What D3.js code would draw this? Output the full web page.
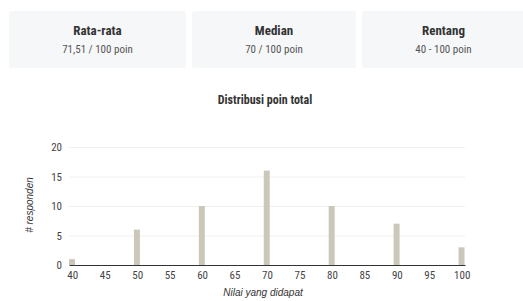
<!DOCTYPE html>
<html>
<head>
<meta charset="utf-8">
<script src="https://cdn.jsdelivr.net/npm/d3@7"></script>
<style>
  body { margin: 0; background: #fff; }
  svg { display: block; }
</style>
</head>
<body>
<svg id="chart" width="523" height="301"></svg>
<script>
const cardTitles = ['Rata-rata', 'Median', 'Rentang']
const cardValues = ['71,51 / 100 poin', '70 / 100 poin', '40 - 100 poin']
const scores = [40, 50, 60, 70, 80, 90, 100]
const counts = [1, 6, 10, 16, 10, 7, 3]
const xTicks = [40, 45, 50, 55, 60, 65, 70, 75, 80, 85, 90, 95, 100]
const yTicks = [0, 5, 10, 15, 20]

const condensed = "'Roboto Condensed', 'Liberation Sans Narrow', 'Arial Narrow', Roboto, sans-serif"
const svg = d3.select('#chart')

// summary cards
const cardX = [9, 192, 362]
const cardW = [177, 164, 163]
let cards = svg.append('g').selectAll('g')
  .data(cardTitles)
  .enter()
  .append('g')
  .attr('transform', (d, i) => `translate(${cardX[i]}, 11)`)
cards.append('rect')
  .attr('width', (d, i) => cardW[i])
  .attr('height', 57)
  .attr('rx', 3)
  .style('fill', '#f6f7f9')
cards.append('text')
  .attr('x', (d, i) => cardW[i] / 2)
  .attr('y', 24)
  .attr('text-anchor', 'middle')
  .style('font-family', condensed)
  .style('font-weight', 'bold')
  .style('font-size', '13px')
  .style('fill', '#333')
  .text(d => d)
cards.append('text')
  .attr('x', (d, i) => cardW[i] / 2)
  .attr('y', 42)
  .attr('text-anchor', 'middle')
  .style('font-family', condensed)
  .style('font-size', '11px')
  .style('fill', '#555')
  .text((d, i) => cardValues[i])

// histogram
const xScale = d3.scaleLinear().domain([39.5, 100.5]).range([69, 465])
const yScale = d3.scaleLinear().domain([0, 20]).range([265, 147])

svg.append('text')
  .attr('x', 265)
  .attr('y', 104)
  .attr('text-anchor', 'middle')
  .style('font-family', condensed)
  .style('font-weight', 'bold')
  .style('font-size', '12px')
  .style('fill', '#333')
  .text('Distribusi poin total')

svg.append('g').selectAll('line')
  .data(yTicks.slice(1))
  .enter()
  .append('line')
  .attr('x1', xScale.range()[0])
  .attr('x2', xScale.range()[1])
  .attr('y1', d => yScale(d) + 0.5)
  .attr('y2', d => yScale(d) + 0.5)
  .style('stroke', '#f0f0f0')

svg.append('g').selectAll('rect')
  .data(scores)
  .enter()
  .append('rect')
  .attr('x', d => xScale(d - 0.5))
  .attr('width', d => xScale(d + 0.5) - xScale(d - 0.5) - 0.5)
  .attr('y', (d, i) => yScale(counts[i]))
  .attr('height', (d, i) => yScale(0) - yScale(counts[i]))
  .style('fill', '#cbc8bb')

let xAxis = svg.append('g')
  .attr('transform', `translate(0, ${yScale(0)})`)
  .call(d3.axisBottom(xScale).tickValues(xTicks).tickSize(0).tickPadding(6))
xAxis.select('.domain').style('stroke', '#333')
xAxis.selectAll('text')
  .style('font-family', condensed)
  .style('font-size', '11px')
  .style('fill', '#444')

let yAxis = svg.append('g')
  .attr('transform', `translate(${xScale.range()[0]}, 0)`)
  .call(d3.axisLeft(yScale).tickValues(yTicks).tickSize(0).tickPadding(7))
yAxis.select('.domain').remove()
yAxis.selectAll('text')
  .style('font-family', condensed)
  .style('font-size', '11px')
  .style('fill', '#444')

svg.append('text')
  .attr('transform', 'translate(33, 205) rotate(-90)')
  .attr('text-anchor', 'middle')
  .style('font-family', "'Liberation Sans', Arial, sans-serif")
  .style('font-style', 'italic')
  .style('font-size', '10px')
  .style('fill', '#333')
  .text('# responden')

svg.append('text')
  .attr('x', 263)
  .attr('y', 296)
  .attr('text-anchor', 'middle')
  .style('font-family', "'Liberation Sans', Arial, sans-serif")
  .style('font-style', 'italic')
  .style('font-size', '10px')
  .style('fill', '#333')
  .text('Nilai yang didapat')
</script>
</body>
</html>
